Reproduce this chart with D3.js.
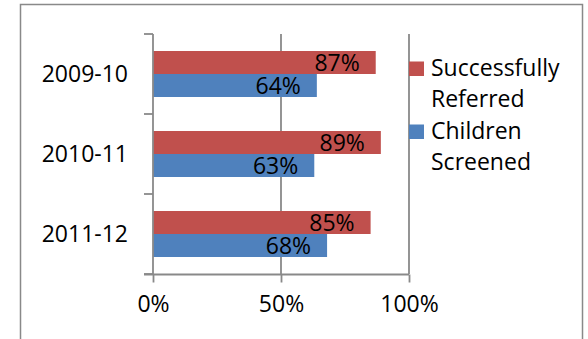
<!DOCTYPE html>
<html>
<head>
<meta charset="utf-8">
<script src="https://cdn.jsdelivr.net/npm/d3@7"></script>
<style>
    body { margin: 0; background: #fff; }
    svg text { font-family: "Open Sans", "Liberation Sans", sans-serif; fill: #000; }
</style>
</head>
<body>
<div id="chart"></div>
<script>
// Chart data
const years = ['2009-10', '2010-11', '2011-12'];
const seriesNames = ['Successfully Referred', 'Children Screened'];
const referred = [87, 89, 85];
const screened = [64, 63, 68];
const xTicks = [0, 50, 100];
const legendLines = [['Successfully', 'Referred'], ['Children', 'Screened']];

const colors = ['#C0504D', '#4F81BD'];
const gray = '#898989';

function drawChart() {
    const width = 588, height = 339;
    const svg = d3.select('#chart').append('svg')
        .attr('width', width)
        .attr('height', height);

    // outer chart box (bottom is cut off by the window)
    svg.append('rect')
        .attr('x', 20.5).attr('y', 4.5)
        .attr('width', 562).attr('height', 350)
        .attr('fill', '#fff')
        .attr('stroke', gray)
        .attr('stroke-width', 1.5);

    const x = d3.scaleLinear().domain([0, 100]).range([153, 409]);
    const y = d3.scaleBand().domain(years).range([34, 274]).padding(0);
    const inner = d3.scaleBand().domain(seriesNames).range([17, 63]).padding(0);

    // gridlines
    svg.append('g')
        .selectAll('line')
        .data(xTicks.filter(d => d > 0))
        .enter().append('line')
        .attr('x1', d => x(d)).attr('x2', d => x(d))
        .attr('y1', 34).attr('y2', 274)
        .attr('stroke', gray).attr('stroke-width', 1.8);

    // bars
    const rows = years.map((yr, i) => ({ yr, values: [referred[i], screened[i]] }));
    const groups = svg.append('g').selectAll('g')
        .data(rows)
        .enter().append('g')
        .attr('transform', d => `translate(0,${y(d.yr)})`);

    groups.selectAll('rect')
        .data(d => d.values.map((v, j) => ({ v, name: seriesNames[j], j })))
        .enter().append('rect')
        .attr('x', x(0))
        .attr('y', d => inner(d.name))
        .attr('width', d => x(d.v) - x(0))
        .attr('height', inner.bandwidth())
        .attr('fill', d => colors[d.j]);

    groups.selectAll('text')
        .data(d => d.values.map((v, j) => ({ v, name: seriesNames[j] })))
        .enter().append('text')
        .attr('x', d => x(d.v) - 16)
        .attr('y', d => inner(d.name) + inner.bandwidth() / 2)
        .attr('dy', '0.36em')
        .attr('text-anchor', 'end')
        .style('font-size', '23px')
        .text(d => d.v + '%');

    // y axis
    const yAxis = svg.append('g');
    yAxis.append('line')
        .attr('x1', x(0)).attr('x2', x(0))
        .attr('y1', 34).attr('y2', 275)
        .attr('stroke', gray).attr('stroke-width', 1.8);
    yAxis.selectAll('line.tick')
        .data(d3.range(years.length + 1))
        .enter().append('line')
        .attr('class', 'tick')
        .attr('x1', x(0) - 9).attr('x2', x(0))
        .attr('y1', i => 34 + i * y.step()).attr('y2', i => 34 + i * y.step())
        .attr('stroke', gray).attr('stroke-width', 1.8);
    yAxis.selectAll('text')
        .data(years)
        .enter().append('text')
        .attr('x', 128)
        .attr('y', d => y(d) + y.bandwidth() / 2)
        .attr('dy', '0.36em')
        .attr('text-anchor', 'end')
        .style('font-size', '23px')
        .text(d => d);

    // x axis
    const xAxis = svg.append('g')
        .attr('transform', 'translate(0,274.5)')
        .call(d3.axisBottom(x).tickValues(xTicks).tickFormat(d => d + '%').tickSize(8).tickPadding(13));
    xAxis.select('.domain').remove();
    xAxis.append('line')
        .attr('x1', x(0) - 9).attr('x2', x(100))
        .attr('stroke', gray).attr('stroke-width', 1.8);
    xAxis.selectAll('.tick line').attr('stroke', gray).attr('stroke-width', 1.8);
    xAxis.selectAll('.tick text')
        .style('font-size', '23px')
        .style('font-family', '"Open Sans", sans-serif')
        .attr('fill', '#000');

    // legend
    const legend = svg.append('g');
    const baselines = [[76, 107], [139, 170]];
    legendLines.forEach((lines, i) => {
        legend.append('rect')
            .attr('x', 409).attr('y', baselines[i][0] - 14.5)
            .attr('width', 15).attr('height', 14.5)
            .attr('fill', colors[i]);
        lines.forEach((t, k) => {
            legend.append('text')
                .attr('x', 431)
                .attr('y', baselines[i][k])
                .style('font-size', '23px')
                .text(t);
        });
    });
}

document.addEventListener('DOMContentLoaded', drawChart);
</script>
</body>
</html>
